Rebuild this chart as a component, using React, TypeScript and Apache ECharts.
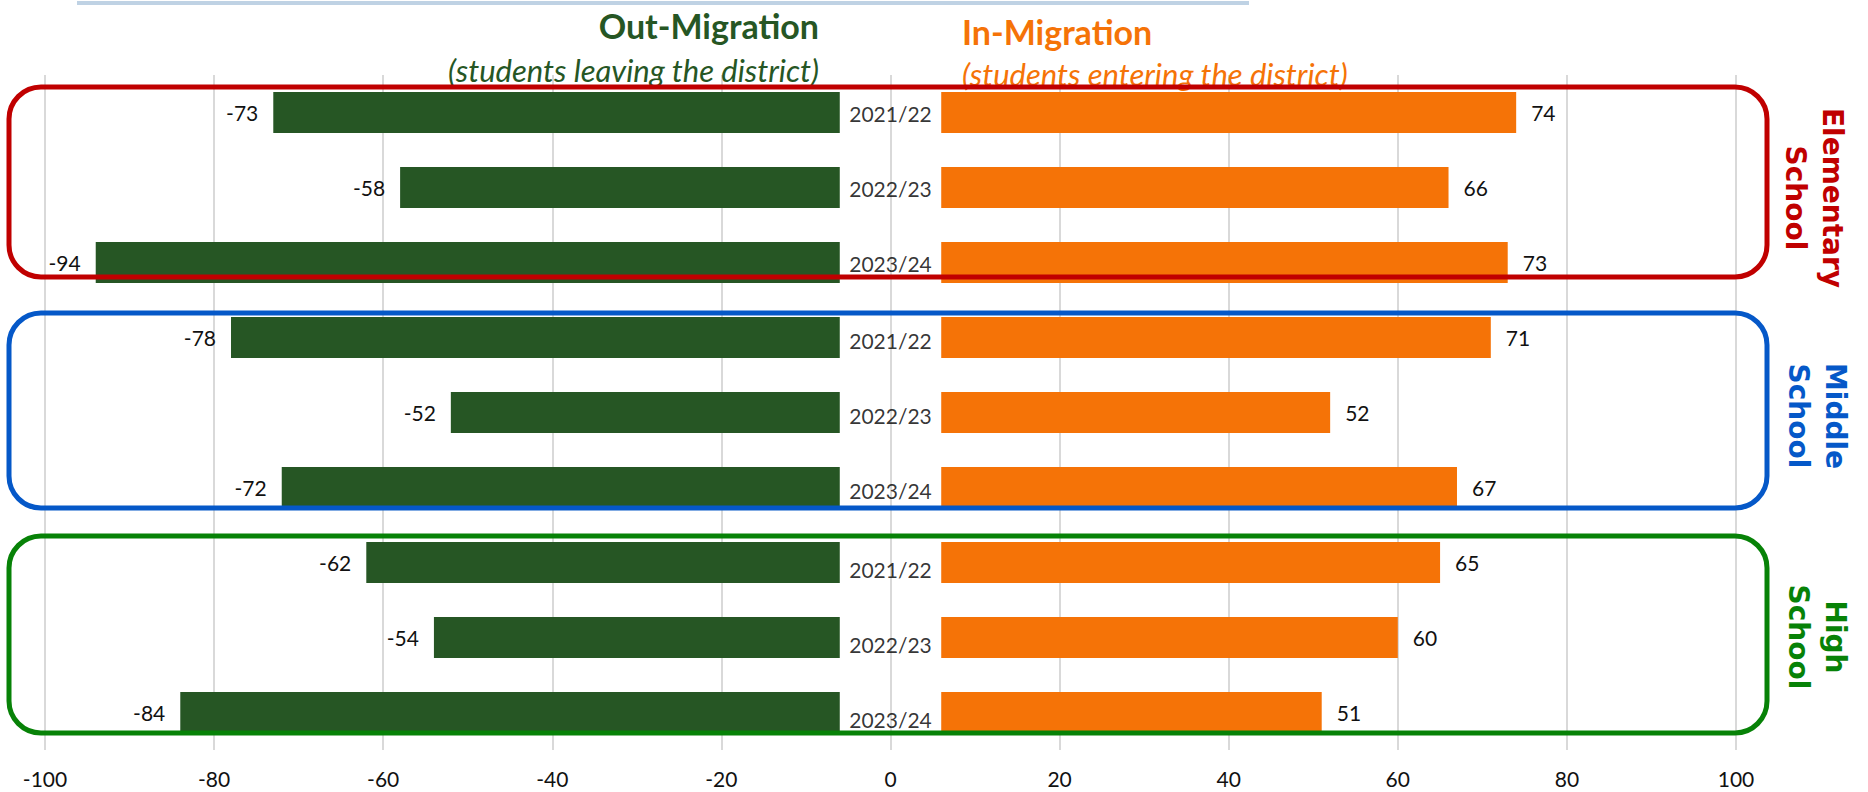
import React, { useEffect, useRef } from "react";
import * as echarts from "echarts";

// ---- data ----
const groupLabels = ["Elementary\nSchool", "Middle\nSchool", "High\nSchool"];
const groupColors = ["#C00000", "#0558C8", "#078207"];
const years = ["2021/22", "2022/23", "2023/24"];
const categories = [
  "ES 2021/22", "ES 2022/23", "ES 2023/24",
  "MS 2021/22", "MS 2022/23", "MS 2023/24",
  "HS 2021/22", "HS 2022/23", "HS 2023/24",
];
const outMigration = [-73, -58, -94, -78, -52, -72, -62, -54, -84];
const inMigration = [74, 66, 73, 71, 52, 67, 65, 60, 51];
const xMin = -100;
const xMax = 100;
const xInterval = 20;
const GAP = 6; // bars start this far from zero, leaving room for the year label

const OUT_COLOR = "#265624";
const IN_COLOR = "#F57307";
const FONT = "Lato, 'Open Sans', sans-serif";

// decoration geometry (boxes around each school level)
const boxes = [
  { y: 87, h: 190 },
  { y: 313, h: 195 },
  { y: 536, h: 197 },
];
const groupLabelPos = [
  { x: 1814, y: 198 },
  { x: 1817, y: 416 },
  { x: 1817, y: 637 },
];
const yearShift = [1, 3, 7];

export default function App() {
  const ref = useRef<HTMLDivElement>(null);

  useEffect(() => {
    if (!ref.current) return;
    const chart = echarts.init(ref.current, null, { renderer: "svg" });

    const labelStyle = {
      fontFamily: FONT,
      fontSize: 21,
      color: "#111",
    };

    const graphics: any[] = [
      {
        type: "rect",
        z: 100,
        shape: { x: 77, y: 1, width: 1172, height: 4 },
        style: { fill: "#BFD2E4" },
      },
      {
        type: "text",
        z: 100,
        x: 819,
        y: 25,
        style: {
          text: "Out-Migration",
          fill: OUT_COLOR,
          fontFamily: FONT,
          fontSize: 34,
          fontWeight: "bold",
          textAlign: "right",
          textVerticalAlign: "middle",
        },
      },
      {
        type: "text",
        z: 100,
        x: 819,
        y: 70,
        style: {
          text: "(students leaving the district)",
          fill: OUT_COLOR,
          fontFamily: FONT,
          fontSize: 31,
          fontStyle: "italic",
          textAlign: "right",
          textVerticalAlign: "middle",
        },
      },
      {
        type: "text",
        z: 100,
        x: 962,
        y: 31,
        style: {
          text: "In-Migration",
          fill: IN_COLOR,
          fontFamily: FONT,
          fontSize: 34,
          fontWeight: "bold",
          textAlign: "left",
          textVerticalAlign: "middle",
        },
      },
      {
        type: "text",
        z: 100,
        x: 962,
        y: 74,
        style: {
          text: "(students entering the district)",
          fill: IN_COLOR,
          fontFamily: FONT,
          fontSize: 31,
          fontStyle: "italic",
          textAlign: "left",
          textVerticalAlign: "middle",
        },
      },
    ];

    boxes.forEach((b, i) => {
      graphics.push({
        type: "rect",
        z: 100,
        shape: { x: 9, y: b.y, width: 1758, height: b.h, r: 32 },
        style: { fill: "none", stroke: groupColors[i], lineWidth: 5 },
      });
      graphics.push({
        type: "text",
        z: 100,
        x: groupLabelPos[i].x,
        y: groupLabelPos[i].y,
        rotation: -Math.PI / 2,
        style: {
          text: groupLabels[i],
          fill: groupColors[i],
          fontFamily: "'DejaVu Sans', sans-serif",
          fontSize: 28,
          fontWeight: "bold",
          lineHeight: 37,
          textAlign: "center",
          textVerticalAlign: "middle",
        },
      });
    });

    chart.setOption({
      animation: false,
      grid: { left: 45, right: 132, top: 75, bottom: 42, containLabel: false, outerBoundsMode: "none" },
      xAxis: {
        type: "value",
        min: xMin,
        max: xMax,
        interval: xInterval,
        axisLine: { show: false },
        axisTick: { show: false },
        splitLine: { lineStyle: { color: "#D9D9D9", width: 2 } },
        axisLabel: { ...labelStyle, margin: 18 },
      },
      yAxis: {
        type: "category",
        inverse: true,
        data: categories,
        axisLine: { show: false },
        axisTick: { show: false },
        axisLabel: { show: false },
        splitLine: { show: false },
      },
      series: [
        {
          type: "bar",
          stack: "m",
          barWidth: 41,
          silent: true,
          itemStyle: { color: "transparent" },
          data: categories.map(() => -GAP),
        },
        {
          type: "bar",
          stack: "m",
          barWidth: 41,
          itemStyle: { color: OUT_COLOR },
          data: outMigration.map((v) => v + GAP),
          label: {
            show: true,
            position: "left",
            distance: 15,
            ...labelStyle,
            formatter: (p: any) => String(outMigration[p.dataIndex]),
          },
        },
        {
          type: "bar",
          stack: "m",
          barWidth: 41,
          silent: true,
          itemStyle: { color: "transparent" },
          data: categories.map(() => GAP),
        },
        {
          type: "bar",
          stack: "m",
          barWidth: 41,
          itemStyle: { color: IN_COLOR },
          data: inMigration.map((v) => v - GAP),
          label: {
            show: true,
            position: "right",
            distance: 15,
            ...labelStyle,
            formatter: (p: any) => String(inMigration[p.dataIndex]),
          },
        },
        {
          type: "scatter",
          symbolSize: 1,
          itemStyle: { color: "transparent" },
          data: categories.map((_, i) => ({
            value: [0, i],
            label: { offset: [0, yearShift[Math.floor(i / 3)]] },
          })),
          label: {
            show: true,
            position: "inside",
            ...labelStyle,
            color: "#000",
            formatter: (p: any) => years[p.dataIndex % 3],
          },
          z: 5,
        },
      ],
      graphic: graphics,
    });

    return () => chart.dispose();
  }, []);

  return (
    <div
      ref={ref}
      style={{ position: "absolute", left: 0, top: 0, width: 1868, height: 792, background: "#fff" }}
    />
  );
}
